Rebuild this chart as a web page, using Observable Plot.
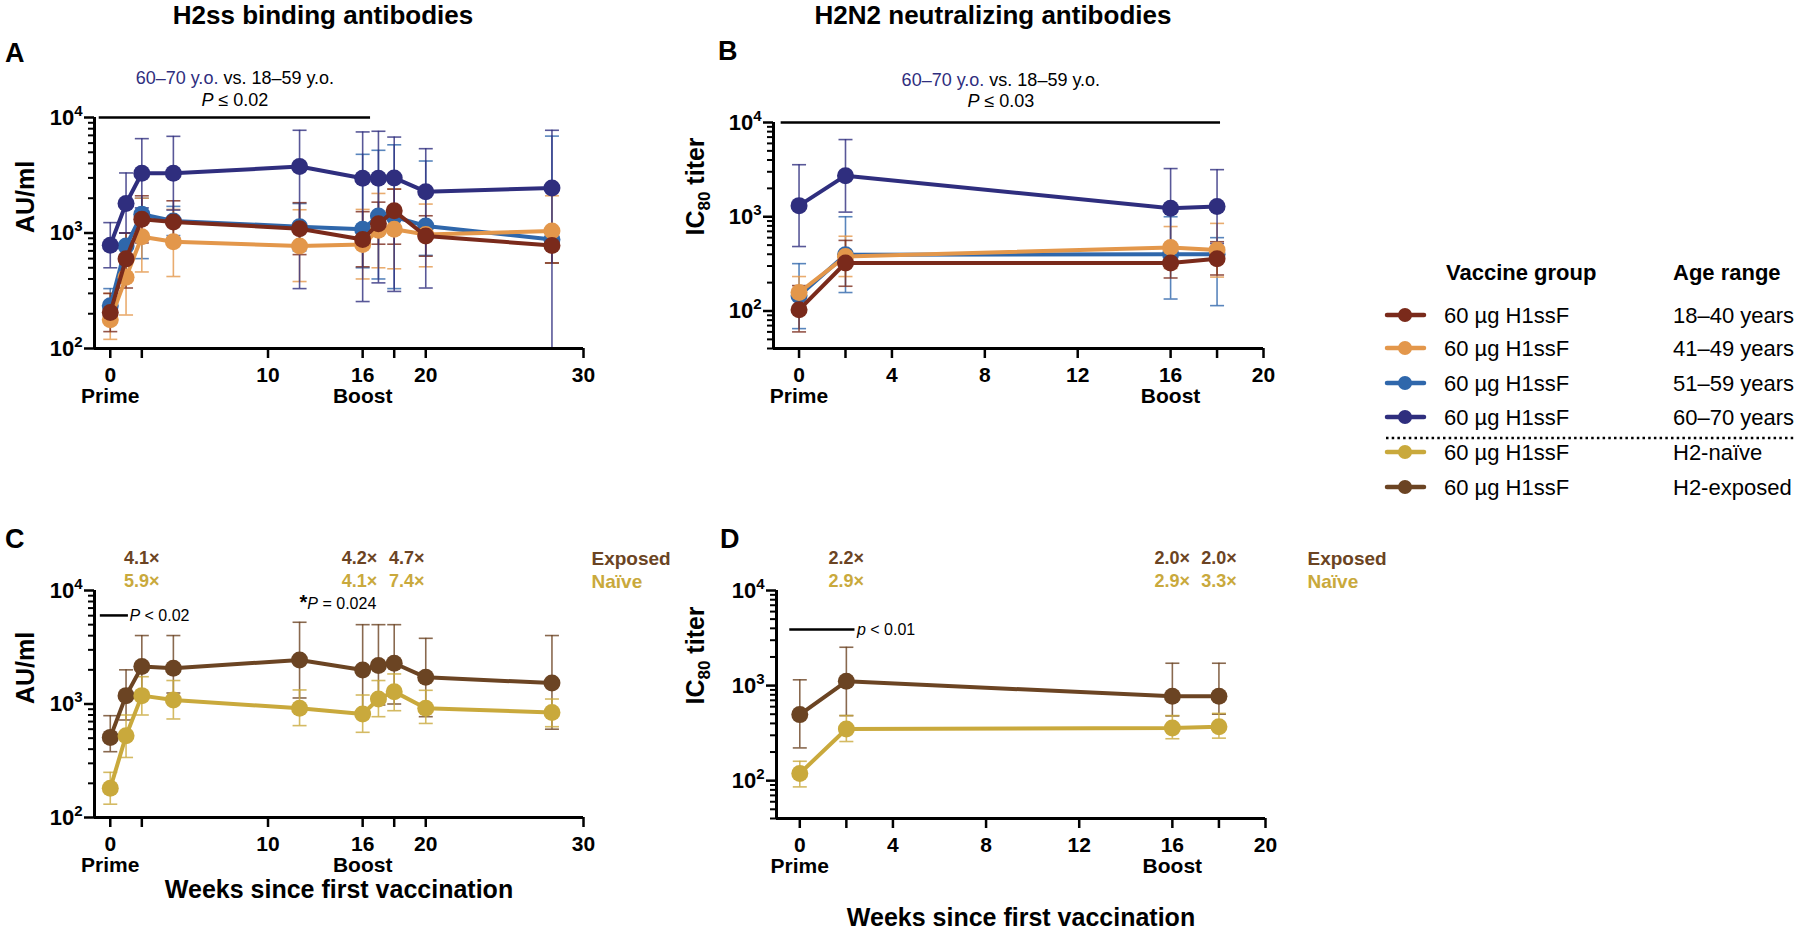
<!DOCTYPE html>
<html><head><meta charset="utf-8">
<script src="https://cdn.jsdelivr.net/npm/d3@7"></script>
<script src="https://cdn.jsdelivr.net/npm/@observablehq/plot@0.6"></script>
<style>
body{margin:0;background:#fff}
#fig{position:relative;width:1800px;height:937px;overflow:hidden;background:#fff}
#fig svg{position:absolute}
</style></head><body><div id="fig"></div>
<script>
const FONT = "'Liberation Sans', Arial, Helvetica, sans-serif";

// ---------------- data ----------------
const weeksBinding = [0, 1, 2, 4, 12, 16, 17, 18, 20, 28];
const weeksNeut = [0, 2, 16, 18];

const vaccineGroup = "60 µg H1ssF";
const ageRanges = ["18–40 years", "41–49 years", "51–59 years", "60–70 years"];
const exposureRanges = ["H2-naïve", "H2-exposed"];
const ageColors = ["#7a2a1b", "#e3974b", "#2f67ab", "#2f2e7e"];
const exposureColors = ["#c9a93c", "#6b4423"];

// A: H2ss binding antibodies (AU/ml) by age
const bind_18_40    = [205, 597, 1315, 1247, 1090, 880, 1205, 1555, 942, 780];
const bind_18_40_hi = [300, 1000, 2100, 1900, 1830, 1530, 1850, 2400, 1410, 1040];
const bind_18_40_lo = [140, 334, 820, 900, 650, 510, 800, 800, 630, 550];
const bind_41_49    = [177, 413, 929, 840, 770, 797, 1055, 1077, 972, 1040];
const bind_41_49_hi = [300, 1000, 2000, 1600, 1590, 1600, 2200, 2400, 1780, 2100];
const bind_41_49_lo = [120, 195, 460, 420, 380, 400, 500, 490, 510, 550];
const bind_51_59    = [235, 770, 1455, 1270, 1135, 1077, 1405, 1380, 1150, 880];
const bind_51_59_hi = [330, 1000, 2000, 1700, 1800, 4800, 5200, 5800, 4200, 6900];
const bind_51_59_lo = [170, 600, 600, 950, 700, 500, 400, 330, 640, 550];
const bind_60_70    = [785, 1800, 3290, 3290, 3760, 2980, 2980, 3000, 2280, 2450];
const bind_60_70_hi = [1230, 3310, 6560, 6870, 7750, 7500, 7600, 6770, 5370, 7750];
const bind_60_70_lo = [500, 1000, 1650, 1580, 330, 255, 370, 312, 334, 100];

// B: H2N2 neutralizing antibodies (IC80 titer) by age
const neut_18_40    = [103, 323, 323, 358];
const neut_18_40_hi = [186, 561, 479, 543];
const neut_18_40_lo = [60, 183, 224, 241];
const neut_41_49    = [157, 378, 472, 443];
const neut_41_49_hi = [232, 621, 787, 850];
const neut_41_49_lo = [100, 232, 283, 229];
const neut_51_59    = [145, 396, 400, 400];
const neut_51_59_hi = [318, 1000, 1000, 600];
const neut_51_59_lo = [65, 157, 134, 114];
const neut_60_70    = [1312, 2730, 1232, 1282];
const neut_60_70_hi = [3565, 6590, 3245, 3160];
const neut_60_70_lo = [483, 1120, 470, 520];

// C: binding by H2 exposure
const bindNaive      = [181, 526, 1185, 1085, 916, 817, 1106, 1285, 916, 843];
const bindNaive_hi   = [250, 800, 1740, 1610, 1330, 1200, 1610, 1840, 1320, 1106];
const bindNaive_lo   = [131, 338, 800, 738, 645, 563, 773, 873, 674, 631];
const bindExposed    = [508, 1185, 2135, 2065, 2445, 1995, 2180, 2285, 1718, 1530];
const bindExposed_hi = [789, 2000, 4010, 4010, 5250, 5000, 5000, 5000, 3790, 4010];
const bindExposed_lo = [380, 723, 1150, 1250, 1130, 800, 980, 1000, 773, 600];

// D: neutralization by H2 exposure
const neutNaive      = [119, 350, 358, 369];
const neutNaive_hi   = [160, 484, 484, 510];
const neutNaive_lo   = [86, 258, 276, 280];
const neutExposed    = [495, 1110, 773, 773];
const neutExposed_hi = [1150, 2530, 1718, 1718];
const neutExposed_lo = [221, 483, 480, 500];

// fold-change annotations
const foldWeeksC = [2, 15.8, 18.8];
const foldExposedC = ["4.1×", "4.2×", "4.7×"];
const foldNaiveC = ["5.9×", "4.1×", "7.4×"];
const foldWeeksD = [2, 16, 18];
const foldExposedD = ["2.2×", "2.0×", "2.0×"];
const foldNaiveD = ["2.9×", "2.9×", "3.3×"];

// significance annotations (weeks, value)
const sigA = {x1: -0.7, x2: 16.5, y: 10000, label: "60–70 y.o. vs. 18–59 y.o.", p: "P ≤ 0.02"};
const sigB = {x1: -0.77, x2: 18.15, y: 10000, label: "60–70 y.o. vs. 18–59 y.o.", p: "P ≤ 0.03"};
const sigC = [{x1: -0.63, x2: 1.15, y: 6030, text: "P < 0.02"}];
const sigC2 = [{x: 12, y: 7680, text: "*P = 0.024"}];
const sigD = [{x1: -0.43, x2: 2.37, y: 3890, text: "p < 0.01"}];

const ticksBinding = [0, 2, 10, 16, 18, 20, 30];
const labelsBinding = [0, 10, 16, 20, 30];
const ticksNeut = [0, 2, 4, 8, 12, 16, 18, 20];
const labelsNeut = [0, 4, 8, 12, 16, 20];
const milestones = [{week: 0, label: "Prime"}, {week: 16, label: "Boost"}];
const majorY = [100, 1000, 10000];
const minorA = [200, 300, 400, 500, 600, 700, 800, 900, 2000, 3000, 4000, 5000, 6000, 7000, 8000, 9000];
const minorB = [40, 50, 60, 70, 80, 90, ...minorA];

// ---------------- helpers ----------------
function rows(weeks, mean, lo, hi) {
  return weeks.map((w, i) => ({week: w, mean: mean[i], lo: lo[i], hi: hi[i]}));
}
const cap = {draw(ctx) { ctx.moveTo(-7, 0); ctx.lineTo(7, 0); }};

function panel(cfg) {
  const marks = [];
  for (const s of cfg.series) {
    const st = {stroke: s.color, strokeWidth: 1.6, strokeOpacity: 0.8};
    marks.push(Plot.ruleX(s.rows, {x: "week", y1: "lo", y2: "hi", ...st}));
    marks.push(Plot.dot(s.rows, {x: "week", y: "hi", symbol: cap, fill: "none", ...st}));
    marks.push(Plot.dot(s.rows, {x: "week", y: "lo", symbol: cap, fill: "none", ...st}));
  }
  for (const s of cfg.series) {
    marks.push(Plot.line(s.rows, {x: "week", y: "mean", stroke: s.color, strokeWidth: 4}));
    marks.push(Plot.dot(s.rows, {x: "week", y: "mean", fill: s.color, r: 8.5}));
  }
  // axes
  marks.push(Plot.ruleX([cfg.xDomain[0]], {strokeWidth: 3}));
  marks.push(Plot.ruleY([cfg.yDomain[0]], {strokeWidth: 3}));
  marks.push(Plot.axisY({ticks: cfg.minor, tickSize: 6, strokeWidth: 2, tickFormat: () => "", label: null}));
  marks.push(Plot.axisY({ticks: majorY, tickSize: 10, tickPadding: 2, strokeWidth: 2.5,
    tickFormat: d => "10^" + Math.round(Math.log10(d)), fontSize: 22, label: null}));
  marks.push(Plot.axisX({ticks: cfg.xTicks, tickSize: 10, tickPadding: 9, strokeWidth: 2.5,
    tickFormat: d => cfg.xLabels.includes(d) ? String(d) : "", fontSize: 21, label: null}));
  marks.push(Plot.text(milestones, {x: "week", text: "label", frameAnchor: "bottom", dy: 54, fontSize: 21}));
  marks.push(Plot.text([cfg.yLabel], {text: d => d, frameAnchor: "left", rotate: -90, dx: cfg.yLabelDx, fontSize: 25}));
  if (cfg.xLabelDy) marks.push(Plot.text(["Weeks since first vaccination"], {text: d => d, frameAnchor: "bottom", dy: cfg.xLabelDy, fontSize: 25}));
  marks.push(...(cfg.extra || []));
  const svg = Plot.plot({
    width: cfg.width, height: cfg.height,
    marginLeft: cfg.mL, marginRight: cfg.mR, marginTop: cfg.mT, marginBottom: cfg.mB,
    x: {domain: cfg.xDomain, label: null},
    y: {type: "log", domain: cfg.yDomain, label: null},
    style: {fontFamily: FONT, fontSize: "21px", fontWeight: "bold", color: "black", background: "transparent", overflow: "visible"},
    marks
  });
  svg.style.left = cfg.left + "px";
  svg.style.top = cfg.top + "px";
  richText(svg);
  return svg;
}

function richText(svg) {
  const NS = "http://www.w3.org/2000/svg";
  const span = (parent, txt, attrs = {}) => {
    const t = document.createElementNS(NS, "tspan");
    for (const k in attrs) t.setAttribute(k, attrs[k]);
    t.textContent = txt; parent.appendChild(t); return t;
  };
  svg.querySelectorAll("text").forEach(t => {
    if (t.querySelector("tspan")) return;
    const s = t.textContent;
    let m;
    if ((m = s.match(/^10\^(\d+)$/))) {
      t.textContent = "10";
      span(t, m[1], {"font-size": 15, dy: -9});
    } else if ((m = s.match(/^(\*?)([Pp])(\s.*)$/))) {
      t.textContent = "";
      if (m[1]) span(t, "*", {"font-weight": "bold", "font-size": 20});
      span(t, m[2], {"font-style": "italic"});
      span(t, m[3]);
    } else if (s.startsWith("60–70 y.o.")) {
      t.textContent = "";
      span(t, "60–70 y.o.", {fill: ageColors[3]});
      span(t, s.slice(10), {fill: "black"});
    } else if ((m = s.match(/^IC(\d+)(\s.*)$/))) {
      t.textContent = "IC";
      span(t, m[1], {"font-size": 17, dy: 6});
      span(t, m[2], {dy: -6});
    }
  });
}

function sigMarks(sig, dy1, dy2) {
  return [
    Plot.ruleY([sig], {x1: "x1", x2: "x2", y: "y", strokeWidth: 2.5}),
    Plot.text([sig], {x: d => (d.x1 + d.x2) / 2, y: "y", text: "label", dy: dy1, fontSize: 18, fontWeight: "normal"}),
    Plot.text([sig], {x: d => (d.x1 + d.x2) / 2, y: "y", text: "p", dy: dy2, fontSize: 18, fontWeight: "normal"})
  ];
}
function foldMarks(weeks, exp, naive) {
  const f = weeks.map((w, i) => ({week: w, e: exp[i], n: naive[i]}));
  return [
    Plot.text(f, {x: "week", text: "e", frameAnchor: "top", dy: -39, fill: exposureColors[1], fontSize: 18}),
    Plot.text(f, {x: "week", text: "n", frameAnchor: "top", dy: -16, fill: exposureColors[0], fontSize: 18})
  ];
}

const fig = document.getElementById("fig");

// Panel A
fig.appendChild(panel({
  left: 0, top: 0, width: 640, height: 480, mL: 94, mR: 57, mT: 117, mB: 132,
  xDomain: [-1, 30], yDomain: [100, 10000], xTicks: ticksBinding, xLabels: labelsBinding, minor: minorA,
  yLabel: "AU/ml", yLabelDx: -69,
  series: [
    {color: ageColors[2], rows: rows(weeksBinding, bind_51_59, bind_51_59_lo, bind_51_59_hi)},
    {color: ageColors[1], rows: rows(weeksBinding, bind_41_49, bind_41_49_lo, bind_41_49_hi)},
    {color: ageColors[0], rows: rows(weeksBinding, bind_18_40, bind_18_40_lo, bind_18_40_hi)},
    {color: ageColors[3], rows: rows(weeksBinding, bind_60_70, bind_60_70_lo, bind_60_70_hi)}
  ],
  extra: sigMarks(sigA, -39, -17)
}));

// Panel B
fig.appendChild(panel({
  left: 640, top: 0, width: 660, height: 480, mL: 133, mR: 37, mT: 122, mB: 132,
  xDomain: [-1.1, 20], yDomain: [40, 10000], xTicks: ticksNeut, xLabels: labelsNeut, minor: minorB,
  yLabel: "IC80 titer", yLabelDx: -78,
  series: [
    {color: ageColors[2], rows: rows(weeksNeut, neut_51_59, neut_51_59_lo, neut_51_59_hi)},
    {color: ageColors[1], rows: rows(weeksNeut, neut_41_49, neut_41_49_lo, neut_41_49_hi)},
    {color: ageColors[0], rows: rows(weeksNeut, neut_18_40, neut_18_40_lo, neut_18_40_hi)},
    {color: ageColors[3], rows: rows(weeksNeut, neut_60_70, neut_60_70_lo, neut_60_70_hi)}
  ],
  extra: sigMarks(sigB, -42, -21)
}));

// Panel C
fig.appendChild(panel({
  left: 0, top: 480, width: 700, height: 457, mL: 94, mR: 117, mT: 110, mB: 120,
  xDomain: [-1, 30], yDomain: [100, 10000], xTicks: ticksBinding, xLabels: labelsBinding, minor: minorA,
  yLabel: "AU/ml", yLabelDx: -69, xLabelDy: 80,
  series: [
    {color: exposureColors[1], rows: rows(weeksBinding, bindExposed, bindExposed_lo, bindExposed_hi)},
    {color: exposureColors[0], rows: rows(weeksBinding, bindNaive, bindNaive_lo, bindNaive_hi)}
  ],
  extra: [
    ...foldMarks(foldWeeksC, foldExposedC, foldNaiveC),
    Plot.text(["Exposed"], {text: d => d, frameAnchor: "top-right", textAnchor: "start", dx: 8, dy: -39, fill: exposureColors[1], fontSize: 19}),
    Plot.text(["Naïve"], {text: d => d, frameAnchor: "top-right", textAnchor: "start", dx: 8, dy: -16, fill: exposureColors[0], fontSize: 19}),
    Plot.ruleY(sigC, {x1: "x1", x2: "x2", y: "y", strokeWidth: 2.5}),
    Plot.text(sigC, {x: "x2", y: "y", text: "text", textAnchor: "start", dx: 1, fontSize: 16, fontWeight: "normal"}),
    Plot.text(sigC2, {x: "x", y: "y", text: "text", textAnchor: "start", fontSize: 16, fontWeight: "normal"})
  ]
}));

// Panel D
fig.appendChild(panel({
  left: 640, top: 480, width: 780, height: 457, mL: 136, mR: 155, mT: 110, mB: 119,
  xDomain: [-1, 20], yDomain: [40, 10000], xTicks: ticksNeut, xLabels: labelsNeut, minor: minorB,
  yLabel: "IC80 titer", yLabelDx: -81, xLabelDy: 107,
  series: [
    {color: exposureColors[1], rows: rows(weeksNeut, neutExposed, neutExposed_lo, neutExposed_hi)},
    {color: exposureColors[0], rows: rows(weeksNeut, neutNaive, neutNaive_lo, neutNaive_hi)}
  ],
  extra: [
    ...foldMarks(foldWeeksD, foldExposedD, foldNaiveD),
    Plot.text(["Exposed"], {text: d => d, frameAnchor: "top-right", textAnchor: "start", dx: 42, dy: -39, fill: exposureColors[1], fontSize: 19}),
    Plot.text(["Naïve"], {text: d => d, frameAnchor: "top-right", textAnchor: "start", dx: 42, dy: -16, fill: exposureColors[0], fontSize: 19}),
    Plot.ruleY(sigD, {x1: "x1", x2: "x2", y: "y", strokeWidth: 2.5}),
    Plot.text(sigD, {x: "x2", y: "y", text: "text", textAnchor: "start", dx: 2, fontSize: 16, fontWeight: "normal"})
  ]
}));

// ---------------- titles, panel letters, legend ----------------
const ov = d3.select(fig).append("svg")
  .attr("width", 1800).attr("height", 937)
  .style("left", "0px").style("top", "0px").style("pointer-events", "none")
  .attr("font-family", FONT);

const titles = [
  {x: 323, y: 24, text: "H2ss binding antibodies"},
  {x: 993, y: 24, text: "H2N2 neutralizing antibodies"}
];
ov.selectAll("text.title").data(titles).join("text").attr("class", "title")
  .attr("x", d => d.x).attr("y", d => d.y).attr("text-anchor", "middle")
  .attr("font-size", 26).attr("font-weight", "bold").text(d => d.text);

const letters = [
  {x: 5, y: 62, t: "A"}, {x: 718, y: 60, t: "B"}, {x: 5, y: 548, t: "C"}, {x: 720, y: 548, t: "D"}
];
ov.selectAll("text.letter").data(letters).join("text").attr("class", "letter")
  .attr("x", d => d.x).attr("y", d => d.y).attr("font-size", 27).attr("font-weight", "bold").text(d => d.t);

const legendItems = [
  ...ageRanges.map((a, i) => ({group: vaccineGroup, range: a, color: ageColors[i]})),
  {group: vaccineGroup, range: exposureRanges[0], color: exposureColors[0]},
  {group: vaccineGroup, range: exposureRanges[1], color: exposureColors[1]}
];
const rowY = [315, 348, 383, 417, 452, 487];
const lg = ov.append("g");
lg.append("text").attr("x", 1446).attr("y", 280).attr("font-size", 22).attr("font-weight", "bold").text("Vaccine group");
lg.append("text").attr("x", 1673).attr("y", 280).attr("font-size", 22).attr("font-weight", "bold").text("Age range");
const row = lg.selectAll("g.row").data(legendItems).join("g").attr("class", "row")
  .attr("transform", (d, i) => `translate(0,${rowY[i]})`);
row.append("line").attr("x1", 1387).attr("x2", 1424).attr("y1", 0).attr("y2", 0)
  .attr("stroke", d => d.color).attr("stroke-width", 4.5).attr("stroke-linecap", "round");
row.append("circle").attr("cx", 1405).attr("cy", 0).attr("r", 7).attr("fill", d => d.color);
row.append("text").attr("x", 1444).attr("y", 8).attr("font-size", 22).text(d => d.group);
row.append("text").attr("x", 1673).attr("y", 8).attr("font-size", 22).text(d => d.range);
lg.append("line").attr("x1", 1386).attr("x2", 1796).attr("y1", 438).attr("y2", 438)
  .attr("stroke", "black").attr("stroke-width", 2.5).attr("stroke-dasharray", "2.5 3.2");
</script></body></html>
